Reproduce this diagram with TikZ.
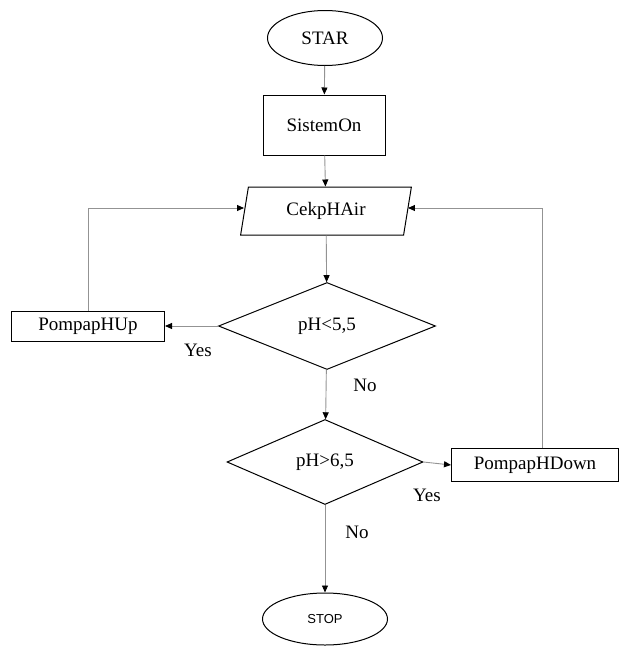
\documentclass[tikz,border=0pt]{standalone}
\usepackage{fontspec}
\setmainfont{Liberation Serif}
\newfontfamily\stopfont{Liberation Sans}
\usetikzlibrary{shapes.geometric,arrows.meta}

\begin{document}
\begin{tikzpicture}[x=1pt,y=-1pt,
	box/.style={draw,line width=1pt,inner sep=0pt,font=\fontsize{19}{22}\selectfont},
	flow/.style={draw=gray!85,line width=0.9pt,-{Triangle[black,length=7pt,width=6pt]}}]
\useasboundingbox (0,0) rectangle (619,648);
% terminals
\node[box,ellipse,minimum width=115pt,minimum height=55pt] (star) at (325,38) {STAR};
\node[box,ellipse,minimum width=125pt,minimum height=52pt,font=\stopfont\fontsize{13}{15}\selectfont] (stop) at (325,619) {STOP};
% process and input
\node[box,rectangle,minimum width=122pt,minimum height=60pt] (sistem) at (324,125) {SistemOn};
\node[box,trapezium,trapezium left angle=77,trapezium right angle=103,trapezium stretches=true,minimum width=172pt,minimum height=48pt] (cek) at (326,211) {CekpHAir};
% decisions
\node[box,diamond,minimum width=217pt,minimum height=87pt] (low) at (327,326) {pH<5,5};
\node[box,diamond,minimum width=196pt,minimum height=85pt] (high) at (325,462) {pH>6,5};
% pumps
\node[box,rectangle,minimum width=153pt,minimum height=30pt] (up) at (88,326) {PompapHUp};
\node[box,rectangle,minimum width=167pt,minimum height=33pt] (down) at (535,465) {PompapHDown};
% connectors
\draw[flow] (star) -- (sistem);
\draw[flow] (sistem) -- (cek);
\draw[flow] (cek) -- (low);
\draw[flow] (low) -- (high);
\draw[flow] (high) -- (stop);
\draw[flow] (low.west) -- (up.east);
\draw[flow] (high.east) -- (down.west);
\draw[flow] (up.north) |- ([yshift=3pt]cek.west);
\draw[flow] ([xshift=7pt]down.north) |- ([yshift=3pt]cek.east);
% labels
\node[font=\fontsize{19}{22}\selectfont] (yes1) at (198,350) {Yes};
\node[font=\fontsize{19}{22}\selectfont] (no1) at (365,385) {No};
\node[font=\fontsize{19}{22}\selectfont] (yes2) at (427,495) {Yes};
\node[font=\fontsize{19}{22}\selectfont] (no2) at (357,532) {No};
\end{tikzpicture}
\end{document}
